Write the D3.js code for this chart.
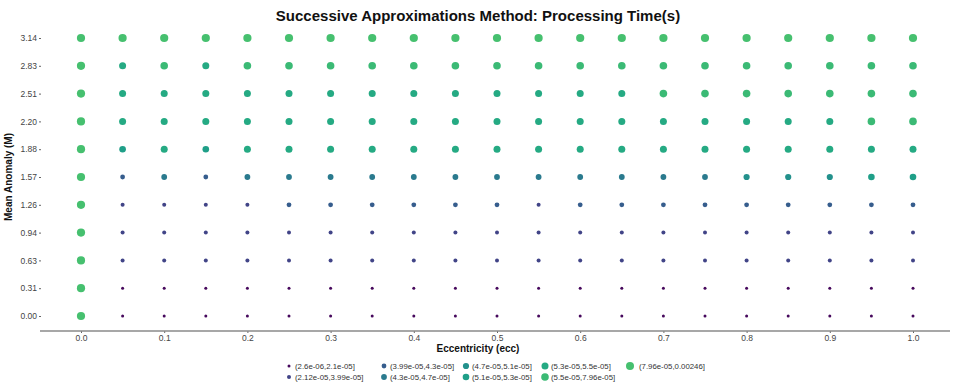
<!DOCTYPE html>
<html>
<head>
<meta charset="utf-8">
<script src="https://cdn.jsdelivr.net/npm/d3@7"></script>
<style>
  html, body { margin: 0; padding: 0; background: #fff; }
  svg { display: block; font-family: "Liberation Sans", Arial, sans-serif; }
</style>
</head>
<body>
<svg id="chart" width="953" height="383"></svg>
<script>
// Grid of eccentricities (x) and mean anomalies (y)
const eccValues = [0.00, 0.05, 0.10, 0.15, 0.20, 0.25, 0.30, 0.35, 0.40, 0.45, 0.50,
                   0.55, 0.60, 0.65, 0.70, 0.75, 0.80, 0.85, 0.90, 0.95, 1.00];
const eccTicks = [0.0, 0.1, 0.2, 0.3, 0.4, 0.5, 0.6, 0.7, 0.8, 0.9, 1.0];
const meanAnomalyLabels = ["0.00", "0.31", "0.63", "0.94", "1.26", "1.57", "1.88", "2.20", "2.51", "2.83", "3.14"];

// Processing-time class bins (legend order)
const timeBins = [
  "(2.6e-06,2.1e-05]", "(2.12e-05,3.99e-05]", "(3.99e-05,4.3e-05]",
  "(4.3e-05,4.7e-05]", "(4.7e-05,5.1e-05]", "(5.1e-05,5.3e-05]",
  "(5.3e-05,5.5e-05]", "(5.5e-05,7.96e-05]", "(7.96e-05,0.00246]"
];

// Time class (1..9) of each cell, one string per mean anomaly row, one digit per eccentricity
const classRows = [
  "911111111111111111111", // M = 0.00
  "911111111111111111111", // M = 0.31
  "922222222222222222222", // M = 0.63
  "922222222222222222222", // M = 0.94
  "922223333332333333333", // M = 1.26
  "934344444444444455566", // M = 1.57
  "967677777777777777777", // M = 1.88
  "977777777777777777788", // M = 2.20
  "977777777777778888888", // M = 2.51
  "978788888888888888888", // M = 2.83
  "999999999999999999999"  // M = 3.14
];

const cells = [];
classRows.forEach((row, ri) => {
  row.split("").forEach((c, ci) => {
    cells.push({ ecc: eccValues[ci], m: meanAnomalyLabels[ri], cls: +c - 1 });
  });
});

const svg = d3.select("#chart");
const x = d3.scaleLinear().domain([0, 1]).range([81, 913]);
const y = d3.scalePoint().domain(meanAnomalyLabels).range([316, 38]);

// Viridis-like palette, one colour per time class
const color = d3.scaleOrdinal()
  .domain(d3.range(timeBins.length))
  .range(["#46085c", "#414487", "#365d8d", "#2a7a8e", "#23918c", "#1f9f88",
          "#25aa83", "#3bba75", "#46c06f"]);
const radius = d3.scaleOrdinal()
  .domain(d3.range(timeBins.length))
  .range([1.5, 2.0, 2.4, 2.9, 3.1, 3.3, 3.5, 3.8, 4.1]);

// Title
svg.append("text")
  .attr("x", 478).attr("y", 21)
  .attr("text-anchor", "middle")
  .attr("font-size", 15).attr("font-weight", "bold").attr("fill", "#111")
  .text("Successive Approximations Method: Processing Time(s)");

// X axis
const xAxis = svg.append("g").attr("transform", "translate(0,331)")
  .call(d3.axisBottom(x).tickValues(eccTicks).tickFormat(d3.format(".1f")).tickSize(2).tickPadding(2));
xAxis.select(".domain").remove();
xAxis.selectAll(".tick line").attr("stroke", "#666");
xAxis.selectAll(".tick text").attr("font-size", 8.5).attr("fill", "#444")
  .attr("font-family", "Liberation Sans, Arial, sans-serif");
svg.append("line")
  .attr("x1", 40).attr("x2", 950).attr("y1", 331).attr("y2", 331)
  .attr("stroke", "#8a8a8a").attr("stroke-width", 1.6);

// Y axis (ticks and labels only)
const yAxis = svg.append("g").attr("transform", "translate(41,0)")
  .call(d3.axisLeft(y).tickSize(2).tickPadding(2));
yAxis.select(".domain").remove();
yAxis.selectAll(".tick line").attr("stroke", "#666");
yAxis.selectAll(".tick text").attr("font-size", 8.5).attr("fill", "#444")
  .attr("font-family", "Liberation Sans, Arial, sans-serif");

// Axis titles
svg.append("text")
  .attr("x", 478).attr("y", 352)
  .attr("text-anchor", "middle")
  .attr("font-size", 10).attr("font-weight", "bold").attr("fill", "#111")
  .text("Eccentricity (ecc)");
svg.append("text")
  .attr("transform", "translate(12,177) rotate(-90)")
  .attr("text-anchor", "middle")
  .attr("font-size", 10).attr("font-weight", "bold").attr("fill", "#111")
  .text("Mean Anomaly (M)");

// Points
svg.append("g").selectAll("circle").data(cells).join("circle")
  .attr("cx", d => x(d.ecc))
  .attr("cy", d => y(d.m))
  .attr("r", d => radius(d.cls))
  .attr("fill", d => color(d.cls));

// Legend: two rows, filled column by column
const legendCols = [289, 384, 466, 545, 630];
const legendRows = [366, 377];
const legend = svg.append("g").selectAll("g").data(timeBins.map((b, i) => ({ b, i }))).join("g")
  .attr("transform", d => `translate(${legendCols[Math.floor(d.i / 2)]},${legendRows[d.i % 2]})`);
legend.append("circle")
  .attr("r", d => Math.min(radius(d.i), 4))
  .attr("fill", d => color(d.i));
legend.append("text")
  .attr("x", d => d.i === 8 ? 9 : 6).attr("y", 2.7)
  .attr("font-size", 7.8).attr("fill", "#333")
  .text(d => d.b);
</script>
</body>
</html>
